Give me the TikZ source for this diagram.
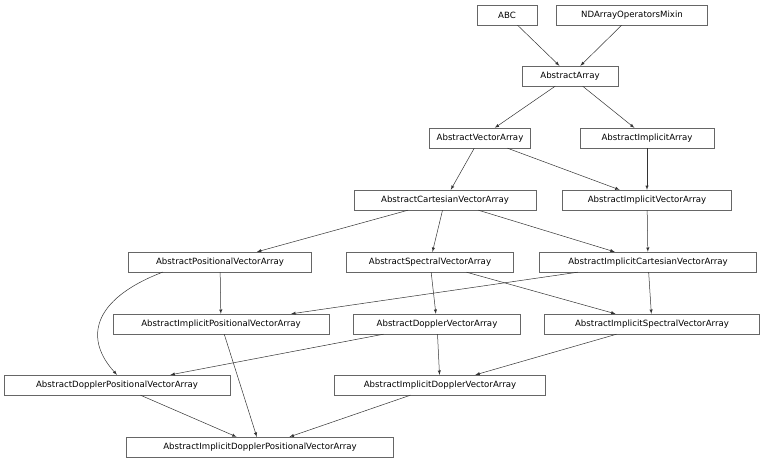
\documentclass[tikz,border=0pt]{standalone}
\usepackage{fontspec}
\setmainfont{DejaVu Sans}
\begin{document}
\begin{tikzpicture}[x=1pt,y=-1pt,>=latex,
  cls/.style={draw=black!60,fill=white,inner sep=0pt,minimum height=20pt,font=\fontsize{8.6}{10}\selectfont},
  inh/.style={->,draw=black!80,line width=0.5pt}]
\useasboundingbox (0,0) rectangle (768,464);
% classes
\node[cls,minimum width=60] (abc) at (507,15) {ABC};
\node[cls,minimum width=151] (ndmix) at (632,15) {NDArrayOperatorsMixin};
\node[cls,minimum width=96] (arr) at (570,76) {AbstractArray};
\node[cls,minimum width=101] (vec) at (480,138) {AbstractVectorArray};
\node[cls,minimum width=134] (impl) at (647,138) {AbstractImplicitArray};
\node[cls,minimum width=182] (cart) at (445,200) {AbstractCartesianVectorArray};
\node[cls,minimum width=169] (implvec) at (647,200) {AbstractImplicitVectorArray};
\node[cls,minimum width=183] (pos) at (220,262) {AbstractPositionalVectorArray};
\node[cls,minimum width=167] (spec) at (430,262) {AbstractSpectralVectorArray};
\node[cls,minimum width=217] (implcart) at (648,262) {AbstractImplicitCartesianVectorArray};
\node[cls,minimum width=216] (implpos) at (221,324) {AbstractImplicitPositionalVectorArray};
\node[cls,minimum width=167] (dop) at (437,324) {AbstractDopplerVectorArray};
\node[cls,minimum width=215] (implspec) at (652,324) {AbstractImplicitSpectralVectorArray};
\node[cls,minimum width=226] (doppos) at (117,385) {AbstractDopplerPositionalVectorArray};
\node[cls,minimum width=211] (impldop) at (440,385) {AbstractImplicitDopplerVectorArray};
\node[cls,minimum width=267] (impldoppos) at (260,447) {AbstractImplicitDopplerPositionalVectorArray};
% inheritance
\draw[inh] (abc) -- (arr);
\draw[inh] (ndmix) -- (arr);
\draw[inh] (arr) -- (vec);
\draw[inh] (arr) -- (impl);
\draw[inh] (vec) -- (cart);
\draw[inh] (vec) -- (implvec);
\draw[inh] (impl) -- (implvec);
\draw[inh] (cart) -- (pos);
\draw[inh] (cart) -- (spec);
\draw[inh] (cart) -- (implcart);
\draw[inh] (implvec) -- (implcart);
\draw[inh] (pos) -- (implpos);
\coordinate (p0) at (163,272);
\draw[inh] (p0) .. controls (90,300) and (85,340) .. (doppos.north);
\draw[inh] (spec) -- (dop);
\draw[inh] (spec) -- (implspec);
\draw[inh] (implcart) -- (implpos);
\draw[inh] (implcart) -- (implspec);
\draw[inh] (dop) -- (doppos);
\draw[inh] (dop) -- (impldop);
\draw[inh] (implspec) -- (impldop);
\draw[inh] (doppos) -- (impldoppos);
\draw[inh] (impldop) -- (impldoppos);
\draw[inh] (implpos) -- (impldoppos);
\end{tikzpicture}
\end{document}
